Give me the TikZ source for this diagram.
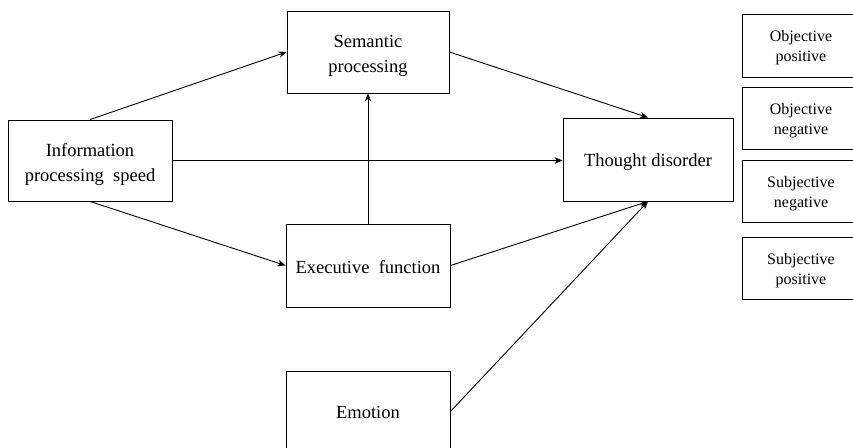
\documentclass[tikz,border=0pt]{standalone}
\usepackage{fontspec}
\setmainfont{Liberation Serif}
\usetikzlibrary{arrows.meta}
\begin{document}
\begin{tikzpicture}[x=1pt,y=-1pt,
  box/.style={draw, line width=0.9pt, inner sep=0pt},
  sbox/.style={draw, line width=0.9pt, inner sep=0pt, minimum width=118pt, minimum height=62pt},
  txt/.style={align=center, inner sep=0pt, font=\fontsize{18.5}{25}\selectfont},
  stxt/.style={align=center, inner sep=0pt, font=\fontsize{16}{20}\selectfont},
  arr/.style={line width=0.9pt, -{Stealth[length=8pt,width=6.5pt,inset=2.5pt]}}]
\useasboundingbox (0,0) rectangle (853,447);
\clip (0,0) rectangle (853,447);
\node[box, minimum width=164pt, minimum height=81pt] (info) at (90,160.5) {};
\node[box, minimum width=162pt, minimum height=82pt] (sem) at (368,52) {};
\node[box, minimum width=164pt, minimum height=83pt] (exe) at (368,265.5) {};
\node[box, minimum width=164pt, minimum height=81pt] (emo) at (368,411.5) {};
\node[box, minimum width=170pt, minimum height=83pt] (td) at (648,159.5) {};
\node[sbox, minimum height=63pt] (r1) at (801,45.5) {};
\node[sbox] (r2) at (801,118) {};
\node[sbox] (r3) at (801,191) {};
\node[sbox] (r4) at (801,268) {};
\node[txt] (info-t) at ([yshift=-3.5pt]info.center) {Information\\processing\ \ speed};
\node[txt] (sem-t) at ([yshift=-4pt]sem.center) {Semantic\\processing};
\node[txt] (exe-t) at ([yshift=-2pt]exe.center) {Executive\ \ function};
\node[txt] (emo-t) at ([yshift=-1pt]emo.center) {Emotion};
\node[txt] (td-t) at ([yshift=-2.5pt]td.center) {Thought disorder};
\node[stxt] (r1-t) at ([yshift=-2.5pt]r1.center) {Objective\\positive};
\node[stxt] (r2-t) at ([yshift=-2.5pt]r2.center) {Objective\\negative};
\node[stxt] (r3-t) at ([yshift=-2.5pt]r3.center) {Subjective\\negative};
\node[stxt] (r4-t) at ([yshift=-2.5pt]r4.center) {Subjective\\positive};
\draw[arr] (info.north) -- (sem.west);
\draw[arr] (info.east) -- (info.east -| td.west);
\draw[arr] (info.south) -- (exe.west);
\draw[arr] (exe.north) -- (sem.south);
\draw[arr] (sem.east) -- (td.north);
\draw[arr] (exe.east) -- (td.south);
\draw[arr] (emo.east) -- (td.south);
\end{tikzpicture}
\end{document}
